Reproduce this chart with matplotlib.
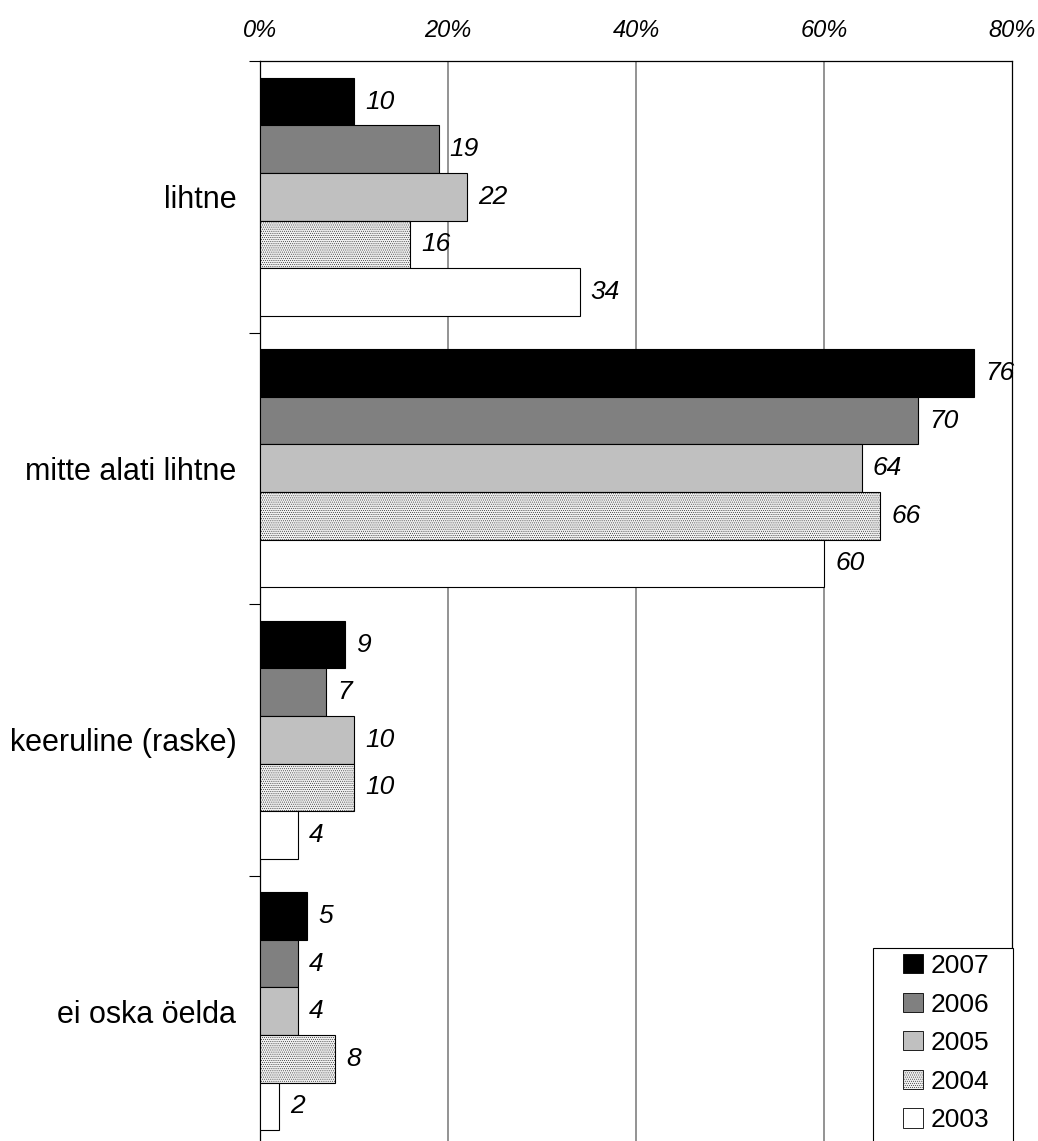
import numpy as np
import matplotlib
matplotlib.use('Agg')
import matplotlib.pyplot as plt
from matplotlib.patches import Patch, Rectangle
from matplotlib.ticker import FixedLocator, PercentFormatter

plt.rcParams['font.family'] = ['Liberation Sans', 'DejaVu Sans']
plt.rcParams['hatch.color'] = '#d6d6d6'
plt.rcParams['hatch.linewidth'] = 0.3

# data
categories = ['lihtne', 'mitte alati lihtne', 'keeruline (raske)', 'ei oska öelda']
years = ['2007', '2006', '2005', '2004', '2003']
v2007 = [10, 76, 9, 5]
v2006 = [19, 70, 7, 4]
v2005 = [22, 64, 10, 4]
v2004 = [16, 66, 10, 8]
v2003 = [34, 60, 4, 2]
series = [v2007, v2006, v2005, v2004, v2003]

colors = ['#000000', '#808080', '#c0c0c0', '#f0f0f0', '#ffffff']
hatches = [None, None, None, '........', None]

fig = plt.figure(figsize=(10.38, 11.41), dpi=100)
ax = fig.add_axes([260/1038, (1141-1147)/1141, 752/1038, 1086/1141])

h = 0.1753
y = np.arange(len(categories))
for j, vals in enumerate(series):
    pos = y + (j - 2) * h
    bars = ax.barh(pos, vals, height=h, color=colors[j], edgecolor='black',
                   linewidth=0.8, hatch=hatches[j], zorder=3, label=years[j])
    for b, v in zip(bars, vals):
        ax.annotate(str(v), (v, b.get_y() + h/2), xytext=(8, 0),
                    textcoords='offset points', ha='left', va='center',
                    fontsize=19, style='italic', zorder=5)

ax.set_xlim(0, 80)
ax.set_ylim(len(categories) - 0.5, -0.5)

ax.xaxis.tick_top()
ax.set_xticks([0, 20, 40, 60, 80])
ax.xaxis.set_major_formatter(PercentFormatter(decimals=0))
ax.tick_params(axis='x', length=0, pad=14, labelsize=17)
for lab in ax.get_xticklabels():
    lab.set_style('italic')
for xv in [20, 40, 60]:
    ax.axvline(xv, color='#808080', linewidth=1.2, zorder=1)

ax.set_yticks(y)
ax.set_yticklabels(categories)
ax.tick_params(axis='y', length=0, pad=17, labelsize=22)
ax.yaxis.set_minor_locator(FixedLocator(np.arange(-0.5, len(categories), 1)))
ax.tick_params(axis='y', which='minor', length=8, width=0.8, color='black')

ax.spines['bottom'].set_visible(False)
for s in ['top', 'left', 'right']:
    ax.spines[s].set_color('black')
    ax.spines[s].set_linewidth(0.9)

# legend box, drawn by hand so it runs off the bottom like the original
fig.patches.append(Rectangle((873/1038, -0.01), 140/1038, 1 - 948/1141 + 0.01,
                             transform=fig.transFigure, facecolor='white',
                             edgecolor='black', linewidth=0.8, zorder=10))
handles = [Patch(facecolor=colors[j], edgecolor='black', linewidth=0.6,
                 hatch=hatches[j], label=years[j]) for j in range(5)]
leg = fig.legend(handles=handles, loc='upper left',
                 bbox_to_anchor=(903/1038, 1 - 954/1141),
                 frameon=False, fontsize=19,
                 handlelength=0.75, handleheight=0.75, handletextpad=0.3,
                 labelspacing=0.55, borderpad=0, borderaxespad=0)
leg.set_zorder(11)

fig.savefig('out.png', dpi=100)
